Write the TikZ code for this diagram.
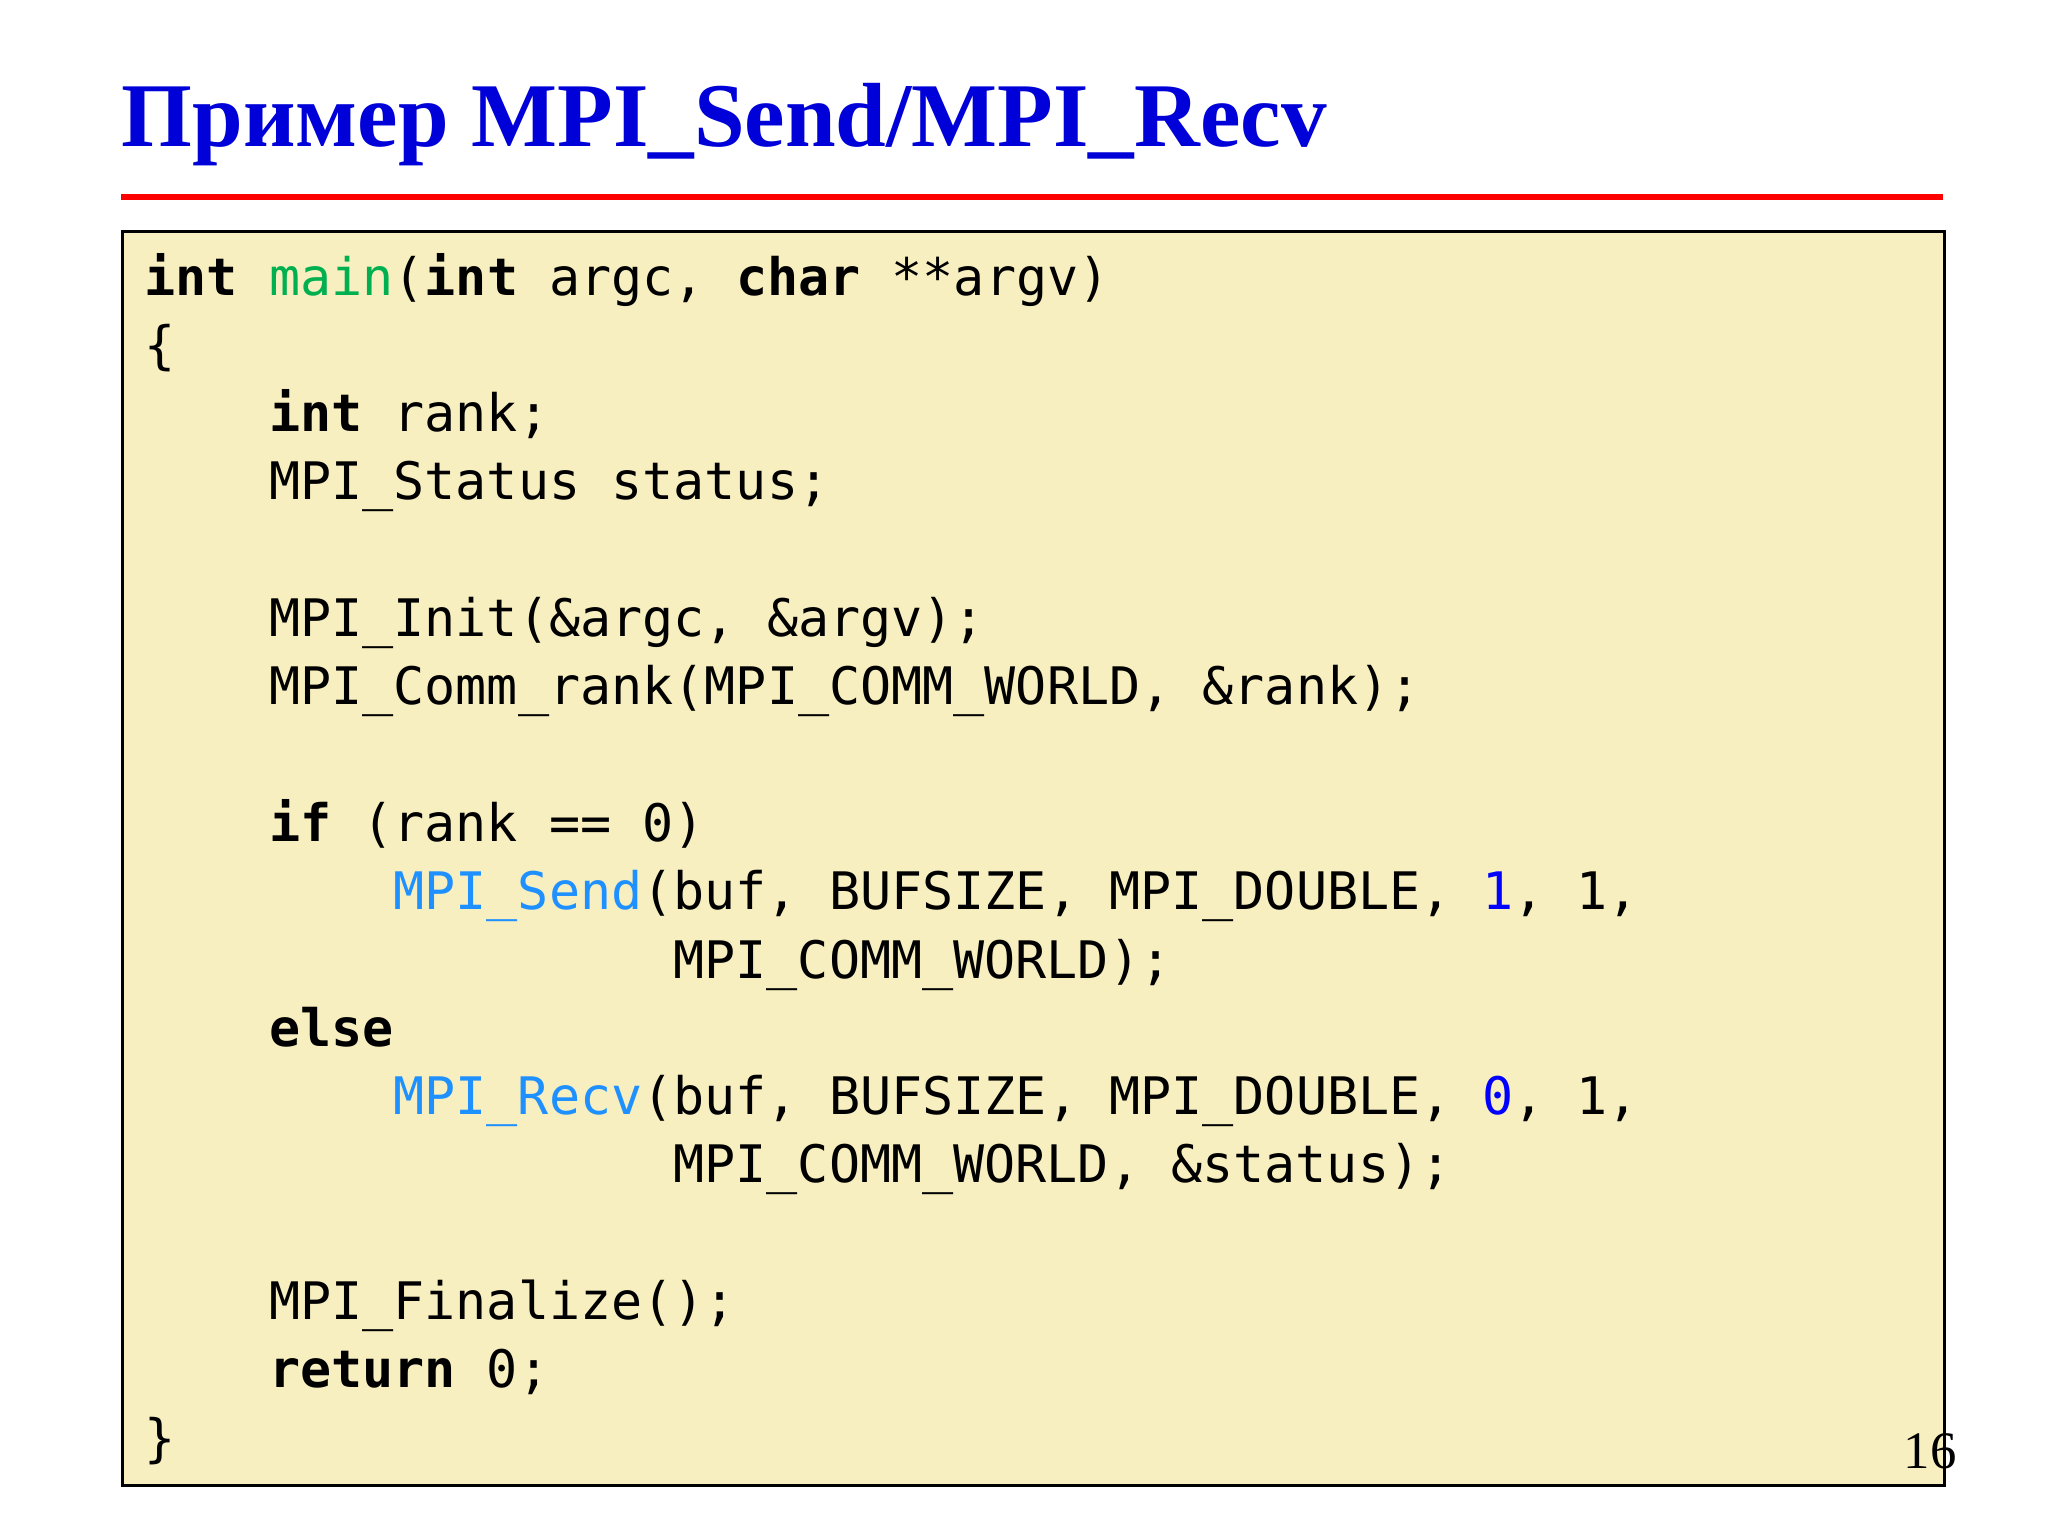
\documentclass[tikz,border=0pt]{standalone}
\usepackage{fontspec}
\setmainfont{Liberation Serif}
\setmonofont{DejaVu Sans Mono}
\definecolor{codebg}{HTML}{F7EFBF}
\definecolor{titleblue}{HTML}{0000D8}
\definecolor{fgreen}{HTML}{00B050}
\definecolor{fblue}{HTML}{1E90FF}
\definecolor{nblue}{HTML}{0000FF}
\newcommand{\kw}[1]{\textbf{#1}}
\newcommand{\fn}[1]{\textcolor{fblue}{#1}}
\newcommand{\nm}[1]{\textcolor{nblue}{#1}}
\tikzset{code/.style={anchor=base west,inner sep=0pt,font=\ttfamily\fontsize{14.7}{16}\selectfont}}
\begin{document}
\begin{tikzpicture}[x=0.01cm,y=-0.01cm]
\useasboundingbox (0,0) rectangle (2048,1536);
\fill[white] (0,0) rectangle (2048,1536);
\node[anchor=base west,inner sep=0pt,text=titleblue,font=\bfseries\fontsize{25.9}{30}\selectfont] (title) at (121,146) {Пример MPI\_Send/MPI\_Recv};
\draw[red,line width=6.5*0.01cm] (121,197) coordinate (r1) -- (1943,197) coordinate (r2);
\node[draw=black,line width=0.8pt,fill=codebg,minimum width=1822*0.01cm,minimum height=1254*0.01cm,anchor=north west,inner sep=0pt] (box) at (121,230) {};
\def\cw{31.1}\def\lp{68.3}
\newcommand{\codeln}[4]{\node[code] (#1) at ({144+#2*\cw},{295+#3*\lp}) {#4};}
\codeln{l1}{0}{0}{\kw{int} \textcolor{fgreen}{main}(\kw{int} argc, \kw{char} **argv)}
\codeln{l2}{0}{1}{\{}
\codeln{l3}{4}{2}{\kw{int} rank;}
\codeln{l4}{4}{3}{MPI\_Status status;}
\codeln{l6}{4}{5}{MPI\_Init(\&argc, \&argv);}
\codeln{l7}{4}{6}{MPI\_Comm\_rank(MPI\_COMM\_WORLD, \&rank);}
\codeln{l9}{4}{8}{\kw{if} (rank == 0)}
\codeln{l10}{8}{9}{\fn{MPI\_Send}(buf, BUFSIZE, MPI\_DOUBLE, \nm{1}, 1,}
\codeln{l11}{17}{10}{MPI\_COMM\_WORLD);}
\codeln{l12}{4}{11}{\kw{else}}
\codeln{l13}{8}{12}{\fn{MPI\_Recv}(buf, BUFSIZE, MPI\_DOUBLE, \nm{0}, 1,}
\codeln{l14}{17}{13}{MPI\_COMM\_WORLD, \&status);}
\codeln{l16}{4}{15}{MPI\_Finalize();}
\codeln{l17}{4}{16}{\kw{return} 0;}
\codeln{l18}{0}{17}{\}}
\node[anchor=base,inner sep=0pt,font=\fontsize{15}{18}\selectfont] (pg) at (1930,1468) {16};
\end{tikzpicture}
\end{document}
